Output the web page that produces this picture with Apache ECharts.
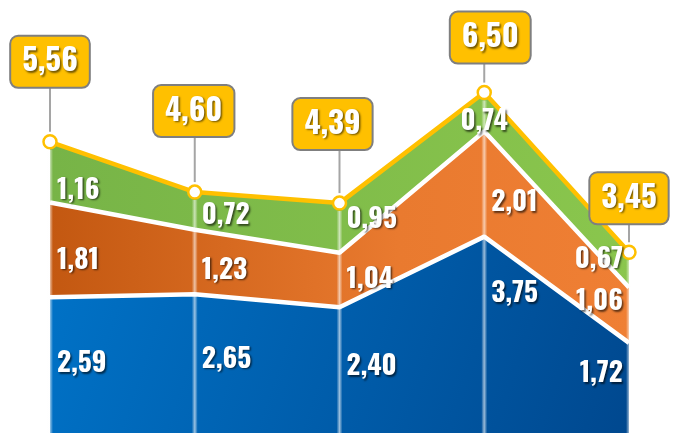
<!DOCTYPE html>
<html><head><meta charset="utf-8">
<script src="https://cdn.jsdelivr.net/npm/echarts@6/dist/echarts.min.js"></script>
<style>html,body{margin:0;padding:0;background:#fff}#c{width:673px;height:433px}</style>
</head><body><div id="c"></div><script>
// ---- data ----
const categories = ['P1', 'P2', 'P3', 'P4', 'P5'];
const blueValues = [2.59, 2.65, 2.40, 3.75, 1.72];
const orangeValues = [1.81, 1.23, 1.04, 2.01, 1.06];
const greenValues = [1.16, 0.72, 0.95, 0.74, 0.67];
const totals = [5.56, 4.60, 4.39, 6.50, 3.45];

// ---- layout / style tuning (not data) ----
const blueLabelFrac = [0.54, 0.56, 0.56, 0.73, 0.70];
const orangeLabelFrac = [0.43, 0.43, 0.59, 0.36, 0.81];
const greenLabelFrac = [0.27, 0.48, 0.75, 0.35, 0.91];
const boxLift = [55, 56, 54, 30, 29];
const boxDx = [0, -1, -7, 6, 0];
const FONT = 'Oswald, "Roboto Condensed", "Open Sans Condensed", sans-serif';

const fmt = v => v.toFixed(2).replace('.', ',');
const G = echarts.graphic.LinearGradient;

function labelSeries(values, bases, fracs, z, centerIdx) {
  return {
    type: 'scatter', symbolSize: 0, z: z, silent: true,
    itemStyle: { opacity: 1 },
    data: values.map((v, i) => {
      const last = i === values.length - 1;
      let label;
      if (i === centerIdx) label = { position: 'inside' };
      else if (last) label = { position: 'left', distance: 6 };
      else label = { position: 'right', distance: 7 };
      return { value: [i, bases[i] + v * fracs[i], v], label: label };
    }),
    label: {
      show: true, offset: [0, 4],
      formatter: p => fmt(p.value[2]),
      color: '#fff', fontFamily: FONT, fontWeight: 'bold', fontSize: 27.5,
      textShadowColor: 'rgba(0,0,0,0.6)', textShadowBlur: 2,
      textShadowOffsetX: 1.5, textShadowOffsetY: 1.5
    }
  };
}

const zeros = blueValues.map(() => 0);
const orangeBase = blueValues.slice();
const greenBase = blueValues.map((v, i) => v + orangeValues[i]);

const option = {
  animation: false,
  grid: { left: 50, right: 44, top: 66.4, bottom: -3 },
  xAxis: { type: 'category', data: categories, boundaryGap: false, show: false },
  yAxis: { type: 'value', min: 0, max: 7, show: false },
  series: [
    {
      type: 'line', stack: 'total', data: blueValues, symbol: 'none', z: 4,
      lineStyle: { color: '#ffffff', width: 4.5 },
      areaStyle: { opacity: 1, color: new G(0, 0, 1, 1, [
        { offset: 0, color: '#0073c8' }, { offset: 1, color: '#00488f' }]) }
    },
    {
      type: 'line', stack: 'total', data: orangeValues, symbol: 'none', z: 3,
      lineStyle: { color: '#ffffff', width: 4.5 },
      areaStyle: { opacity: 1, color: new G(0, 0, 1, 0, [
        { offset: 0, color: '#c35811' }, { offset: 0.6, color: '#e97a2f' }, { offset: 1, color: '#ef7f34' }]) }
    },
    {
      type: 'line', stack: 'total', data: greenValues, z: 2,
      symbol: 'circle', symbolSize: 13, showSymbol: true,
      itemStyle: { color: '#ffffff', borderColor: '#ffc000', borderWidth: 2.5 },
      lineStyle: { color: '#ffc000', width: 4.5 },
      areaStyle: { opacity: 1, color: new G(0, 0, 1, 0, [
        { offset: 0, color: '#77b447' }, { offset: 1, color: '#8ac64d' }]) }
    },
    {
      type: 'custom', z: 5, silent: true,
      data: totals.map((t, i) => [i, t]),
      renderItem(params, api) {
        const i = api.value(0);
        const p = api.coord([i, api.value(1)]);
        const b = api.coord([i, 0]);
        return {
          type: 'rect',
          shape: { x: p[0] - 3, y: p[1] + 8, width: 6, height: b[1] - p[1] },
          style: { fill: new G(0, 0, 1, 0, [
            { offset: 0, color: 'rgba(255,255,255,0)' },
            { offset: 0.5, color: 'rgba(255,255,255,0.6)' },
            { offset: 1, color: 'rgba(255,255,255,0)' }]) }
        };
      }
    },
    labelSeries(blueValues, zeros, blueLabelFrac, 6, -1),
    labelSeries(orangeValues, orangeBase, orangeLabelFrac, 6, -1),
    labelSeries(greenValues, greenBase, greenLabelFrac, 6, 3),
    {
      type: 'custom', z: 7, silent: true,
      data: totals.map((t, i) => [i, t]),
      renderItem(params, api) {
        const i = api.value(0);
        const t = api.value(1);
        const p = api.coord([i, t]);
        const boxBottom = p[1] - boxLift[i];
        return {
          type: 'group',
          children: [
            { type: 'line', shape: { x1: p[0], y1: boxBottom, x2: p[0], y2: p[1] - 10 },
              style: { stroke: '#a5a5a5', lineWidth: 2 } },
            { type: 'text', x: p[0] + boxDx[i], y: boxBottom,
              style: {
                text: fmt(t), fill: '#ffffff',
                font: 'bold 31px ' + FONT,
                align: 'center', verticalAlign: 'bottom',
                backgroundColor: '#ffc000', borderColor: '#7f7f7f', borderWidth: 2,
                borderRadius: 7, padding: [8, 11], lineHeight: 34,
                textShadowColor: 'rgba(0,0,0,0.55)', textShadowBlur: 2,
                textShadowOffsetX: 1.5, textShadowOffsetY: 1.5
              } }
          ]
        };
      }
    }
  ]
};

const chart = echarts.init(document.getElementById('c'), null, { renderer: 'canvas' });
chart.setOption(option);
</script></body></html>
